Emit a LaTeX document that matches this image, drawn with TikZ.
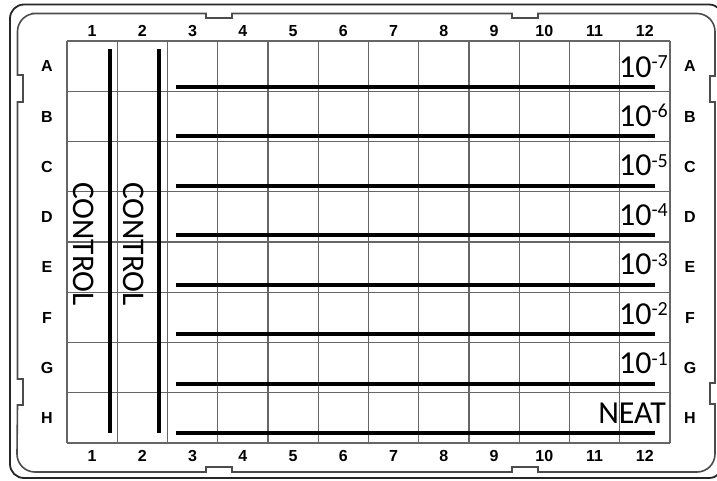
\documentclass[tikz,border=0pt]{standalone}
\usepackage{fontspec}
\setmainfont{Carlito}
\newfontfamily\lblfont{Liberation Sans}

\begin{document}
\begin{tikzpicture}[
    x=1pt,y=-1pt,
    plate/.style={line width=1.8pt,draw=black!85},
    rim/.style={line width=1.6pt,draw=black!70},
    cell/.style={line width=1.2pt,draw=black!60},
    streak/.style={line width=4pt,draw=black},
    lbl/.style={font=\lblfont\bfseries\fontsize{16}{16}\selectfont,inner sep=0pt,anchor=base},
    dil/.style={font=\fontsize{32}{32}\selectfont,inner sep=0pt,anchor=base east},
    ctrl/.style={font=\fontsize{31.5}{31.5}\selectfont,inner sep=0pt,rotate=-90}
  ]
    \useasboundingbox (0,0) rectangle (717,480);

    % plate outline
    \draw[plate,rounded corners=14pt] (10,4.5) rectangle (723,478);
    \draw[rim] (31.5,13.5) -- (206,13.5) -- (206,18) -- (232,18) -- (232,13.5)
      -- (512,13.5) -- (512,18) -- (538,18) -- (538,13.5)
      -- (697,13.5) arc[start angle=-90,end angle=0,radius=18]
      -- (715,76) -- (710,76) -- (710,102) -- (715,102)
      -- (715,383) -- (710,383) -- (710,404) -- (715,404)
      -- (715,454) arc[start angle=0,end angle=90,radius=18]
      -- (538,472) -- (538,467) -- (512,467) -- (512,472)
      -- (232,472) -- (232,467) -- (206,467) -- (206,472)
      -- (35,472) arc[start angle=90,end angle=180,radius=18]
      -- (17.5,405) -- (23,405) -- (23,379) -- (17.5,379)
      -- (17.5,102) -- (23,102) -- (23,75) -- (17.5,75)
      -- (17.5,31.5) arc[start angle=180,end angle=270,radius=18] -- cycle;

    % wells
    \foreach \i in {0,...,12}
      \draw[cell] (67+50.25*\i,41) -- (67+50.25*\i,443);
    \foreach \j in {0,...,8}
      \draw[cell] (67,41+50.25*\j) -- (670,41+50.25*\j);

    % column and row labels
    \foreach \c in {1,...,12} {
      \node[lbl] (top\c) at (41.875+50.25*\c,36.3) {\c};
      \node[lbl] (bot\c) at (41.875+50.25*\c,461.8) {\c};
    }
    \foreach \r [count=\k] in {A,...,H} {
      \node[lbl] (left\r) at (47,21.6+50.25*\k) {\r};
      \node[lbl] (right\r) at (690,21.6+50.25*\k) {\r};
    }

    % streaks
    \draw[streak] (110,49) -- (110,433);
    \draw[streak] (159,49) -- (159,433);
    \foreach \k in {1,...,8}
      \draw[streak] (176,37.57+49.43*\k) -- (655,37.57+49.43*\k);

    % dilutions
    \foreach \e [count=\k] in {7,...,1}
      \node[dil] (dil\k) at (668,27.57+49.43*\k)
        {10\raisebox{8.5pt}{\fontsize{20}{20}\selectfont -\e}};
    \node[dil] (neat) at (666,423) {NEAT};

    \node[ctrl] (ctrl1) at (84,244) {CONTROL};
    \node[ctrl] (ctrl2) at (134,244) {CONTROL};
  \end{tikzpicture}
\end{document}
